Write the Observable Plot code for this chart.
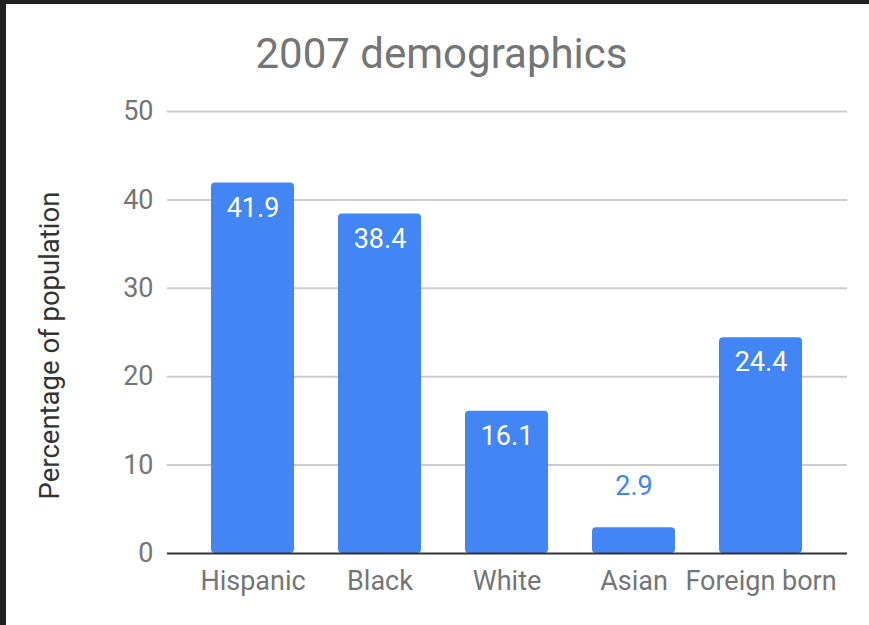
<!DOCTYPE html>
<html>
<head>
<meta charset="utf-8">
<script src="https://cdn.jsdelivr.net/npm/d3@7"></script>
<script src="https://cdn.jsdelivr.net/npm/@observablehq/plot@0.6"></script>
<style>
  html, body { margin: 0; padding: 0; background: #212121; }
  #frame { position: absolute; left: 6px; top: 4px; width: 863px; height: 621px; background: #fff; overflow: hidden; }
  #title { height: 80px; font-family: Roboto, sans-serif; font-size: 42px; color: #757575; text-align: center; line-height: 1; box-sizing: border-box; padding-top: 29px; padding-left: 8px; }
  svg { display: block; }
</style>
</head>
<body>
<div id="frame">
  <div id="title">2007 demographics</div>
  <div id="chart"></div>
</div>
<script>
const categories = ["Hispanic", "Black", "White", "Asian", "Foreign born"];
const values = [41.9, 38.4, 16.1, 2.9, 24.4];
const yTicks = [0, 10, 20, 30, 40, 50];
const yLabel = "Percentage of population";

const data = categories.map((c, i) => ({category: c, value: values[i]}));
const inside = data.filter(d => d.value > 5);
const outside = data.filter(d => d.value <= 5);

const blue = "#4285F4";
const plot = Plot.plot({
  width: 863,
  height: 541,
  marginTop: 27,
  marginBottom: 72,
  marginLeft: 161,
  marginRight: 22,
  style: {fontFamily: "Roboto, sans-serif", fontSize: "27px", color: "#757575", background: "transparent"},
  x: {domain: categories, padding: 0.345, paddingOuter: 0.34, label: null, tickSize: 0, tickPadding: 17},
  y: {domain: [0, 50], ticks: yTicks, label: null, tickSize: 0, tickPadding: 14},
  marks: [
    Plot.ruleY(yTicks.filter(t => t > 0), {stroke: "#cccccc", strokeWidth: 2}),
    Plot.barY(data, {x: "category", y: "value", fill: blue, rx: 4}),
    Plot.ruleY([0], {stroke: "#333333", strokeWidth: 2}),
    Plot.text(inside, {x: "category", y: "value", text: d => d.value.toFixed(1), fill: "white", dy: 25, fontSize: 27}),
    Plot.text(outside, {x: "category", y: "value", text: d => d.value.toFixed(1), fill: blue, dy: -42, fontSize: 27}),
    Plot.text([yLabel], {frameAnchor: "left", text: d => d, textAnchor: "middle", rotate: -90, dx: -117, dy: 13, fill: "#333333", fontSize: 27.5})
  ]
});
document.getElementById("chart").appendChild(plot);
</script>
</body>
</html>
